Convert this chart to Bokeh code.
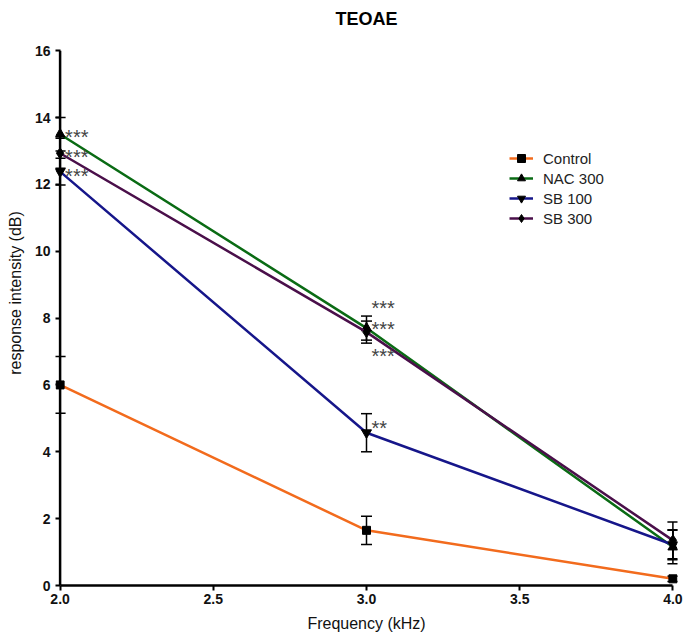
from bokeh.plotting import figure
from bokeh.models import (ColumnDataSource, Range1d, FixedTicker, Whisker, TeeHead,
                          NumeralTickFormatter, Legend, Label)
from bokeh.core.properties import value
from bokeh.embed import file_html
from bokeh.resources import INLINE

# Frequencies (kHz) and mean response intensity (dB) with error values
freq = [2.0, 3.0, 4.0]
series_names = ["Control", "NAC 300", "SB 100", "SB 300"]
control = [6.0, 1.65, 0.2]
control_err = [0.85, 0.42, 0.08]
nac300 = [13.5, 7.7, 1.15]
nac300_err = [0.5, 0.36, 0.5]
sb100 = [12.38, 4.57, 1.22]
sb100_err = [0.4, 0.57, 0.45]
sb300 = [12.93, 7.58, 1.35]
sb300_err = [0.45, 0.33, 0.55]

# Significance marks
star_x = [2.0, 2.0, 2.0, 3.0, 3.0, 3.0, 3.0]
star_y = [13.55, 12.93, 12.38, 8.42, 7.8, 7.0, 4.84]
star_text = ["***", "***", "***", "***", "***", "***", "**"]

x_ticks = [2.0, 2.5, 3.0, 3.5, 4.0]
y_ticks = [0, 2, 4, 6, 8, 10, 12, 14, 16]
y_axis_top = 16

FONT = "Liberation Sans"

# a little room left and right so the end markers are drawn whole;
# the frame reaches to the top of the page so the title can sit inside it
p = figure(width=683, height=638, output_backend="svg", toolbar_location=None,
           x_range=Range1d(1.985, 4.015), y_range=Range1d(0, 17.5),
           min_border_left=55, min_border_right=6, min_border_top=0, min_border_bottom=53)
p.outline_line_color = None
p.grid.visible = False

p.add_layout(Label(x=3.0, y=16.96, text="TEOAE", text_align="center",
                   text_baseline="middle", text_font=FONT, text_font_size="18px",
                   text_font_style="bold", text_color="black"))

for ax in (p.xaxis[0], p.yaxis[0]):
    ax.axis_line_width = 2.5
    ax.axis_line_color = "black"
    ax.major_tick_line_width = 2
    ax.major_tick_line_color = "black"
    ax.major_tick_out = 5
    ax.major_tick_in = 0
    ax.minor_tick_line_color = None
    ax.major_label_text_font = FONT
    ax.major_label_text_font_size = "14px"
    ax.major_label_text_font_style = "bold"
    ax.major_label_text_color = "#111111"
    ax.axis_label_text_font = FONT
    ax.axis_label_text_font_size = "16px"
    ax.axis_label_text_font_style = "normal"
    ax.axis_label_text_color = "#111111"

p.xaxis.ticker = FixedTicker(ticks=x_ticks)
p.xaxis.formatter = NumeralTickFormatter(format="0.0")
p.xaxis.bounds = (2.0, 4.0)
p.xaxis.axis_label = "Frequency (kHz)"
p.xaxis.major_label_standoff = 3
p.xaxis.axis_label_standoff = 8

# y axis sits at the frame edge; its visible line is drawn at x = 2.0
p.yaxis.ticker = FixedTicker(ticks=y_ticks)
p.yaxis.axis_line_color = None
p.yaxis.major_tick_out = 0
p.yaxis.major_tick_in = 5
p.yaxis.axis_label = "response intensity (dB)"
p.yaxis.major_label_standoff = 5
p.yaxis.axis_label_standoff = 8
p.segment(x0=[freq[0]], y0=[0], x1=[freq[0]], y1=[y_axis_top],
          line_color="black", line_width=2.5)

colors = ["#f26b1d", "#0a6b14", "#16168a", "#4a0f4a"]
markers = ["square", "triangle", "inverted_triangle", "diamond"]
sizes = [8, 10, 10, 11]
values = [control, nac300, sb100, sb300]
errors = [control_err, nac300_err, sb100_err, sb300_err]

items = []
for name, col, mk, sz, ys, es in zip(series_names, colors, markers, sizes, values, errors):
    src = ColumnDataSource(dict(x=freq, y=ys,
                                lo=[y - e for y, e in zip(ys, es)],
                                hi=[y + e for y, e in zip(ys, es)]))
    w = Whisker(base="x", lower="lo", upper="hi", source=src, dimension="height",
                line_color="black", line_width=1.5,
                upper_head=TeeHead(size=11, line_color="black", line_width=1.5),
                lower_head=TeeHead(size=11, line_color="black", line_width=1.5))
    p.add_layout(w)
    ln = p.line("x", "y", source=src, line_color=col, line_width=2.5)
    sc = p.scatter("x", "y", source=src, marker=mk, size=sz,
                   fill_color="black", line_color="black")
    items.append((name, [ln, sc]))

star_src = ColumnDataSource(dict(x=star_x, y=star_y, t=star_text))
p.text("x", "y", text="t", source=star_src, x_offset=5, text_font=value(FONT),
       text_font_size="20px", text_color="#444444", text_baseline="middle",
       text_align="left", y_offset=4)

legend = Legend(items=items, location=(454, 357), padding=5, spacing=0,
                glyph_height=20, glyph_width=24, label_height=20, label_standoff=10,
                border_line_color=None, background_fill_alpha=0,
                label_text_font=FONT, label_text_font_size="15px",
                label_text_color="#222222", margin=0)
p.add_layout(legend, "center")

open("out.html", "w").write(file_html(p, INLINE))
